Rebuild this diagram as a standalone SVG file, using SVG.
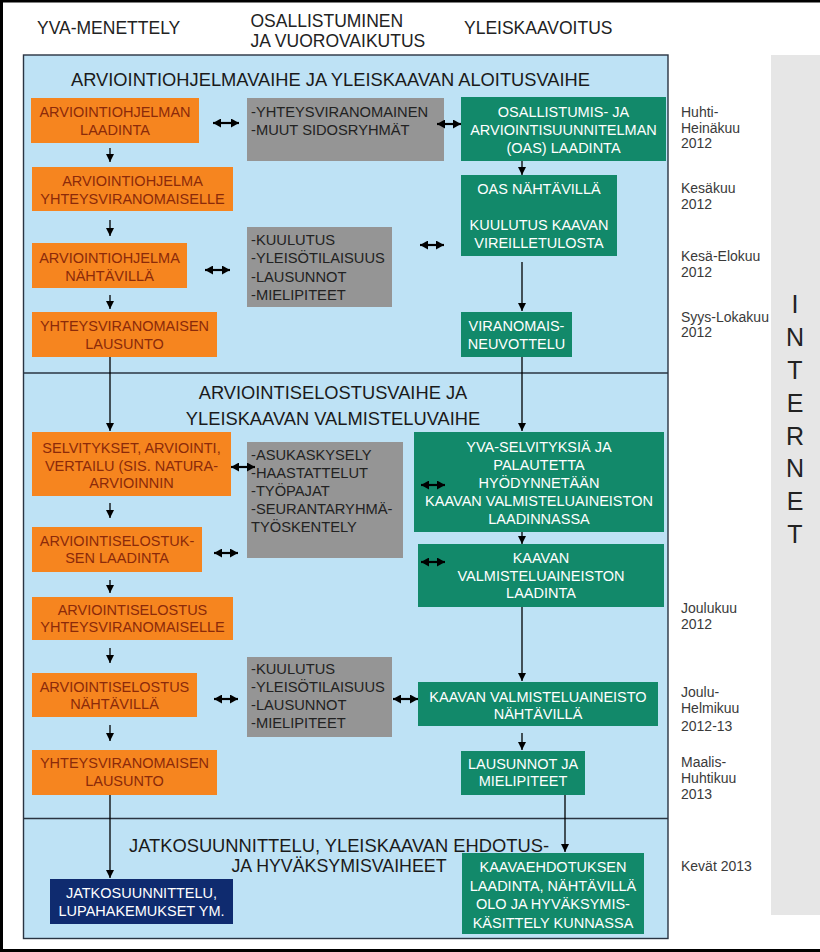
<svg xmlns="http://www.w3.org/2000/svg" width="820" height="952" viewBox="0 0 820 952">
<defs>
<marker id="ah" markerUnits="userSpaceOnUse" markerWidth="8" markerHeight="8" viewBox="0 0 8 8" refX="8" refY="4" orient="auto"><path d="M0,0 L8,4 L0,8 z" fill="#000"/></marker>
<marker id="dh" markerUnits="userSpaceOnUse" markerWidth="8" markerHeight="9" viewBox="0 0 8 9" refX="8" refY="4.5" orient="auto-start-reverse"><path d="M0,0 L8,4.5 L0,9 z" fill="#000"/></marker>
</defs>
<style>
text{font-family:"Liberation Sans",Arial,sans-serif}
.o{fill:#F6851F}
.g{fill:#959595}
.e{fill:#12896A}
.n{fill:#0F2B6F}
.to{font-size:14.5px;fill:#8B2A0A;text-anchor:middle}
.tg{font-size:14.7px;fill:#222}
.te{font-size:14.5px;fill:#fff;text-anchor:middle}
.hd{font-size:17.5px;fill:#222}
.ph{font-size:18.3px;fill:#1a1a1a}
.ph3{font-size:17.8px;fill:#1a1a1a;text-anchor:middle}
.dt{font-size:14px;fill:#3a3a3a}
.inet{font-size:25px;fill:#222;text-anchor:middle}
.s{stroke:#000;stroke-width:1.3;fill:none;marker-end:url(#ah)}
.d{stroke:#000;stroke-width:2.2;fill:none;marker-end:url(#dh);marker-start:url(#dh)}
</style>
<rect x="0" y="0" width="820" height="952" fill="#fff"/>
<path d="M1.5,952 V1 H820 M0,950.5 H820" stroke="#000" stroke-width="3" fill="none"/>

<g id="internet">
<rect x="771" y="55" width="49" height="860" fill="#E6E6E6"/>
<text class="inet" x="795" y="313">I</text>
<text class="inet" x="795" y="346">N</text>
<text class="inet" x="795" y="379">T</text>
<text class="inet" x="795" y="412">E</text>
<text class="inet" x="795" y="445">R</text>
<text class="inet" x="795" y="477">N</text>
<text class="inet" x="795" y="510">E</text>
<text class="inet" x="795" y="543">T</text>
</g>

<g id="panel">
<rect x="23.5" y="55" width="644.5" height="883.5" fill="#BEE2F5" stroke="#2a3442" stroke-width="1.4"/>
<line x1="23.5" y1="373" x2="668" y2="373" stroke="#2a3442" stroke-width="1.4"/>
<line x1="23.5" y1="818.5" x2="668" y2="818.5" stroke="#2a3442" stroke-width="1.4"/>
</g>

<g id="headers">
<text class="hd" x="37" y="34">YVA-MENETTELY</text>
<text class="hd" x="250.5" y="27">OSALLISTUMINEN</text>
<text class="hd" x="250.5" y="47">JA VUOROVAIKUTUS</text>
<text class="hd" x="464" y="34">YLEISKAAVOITUS</text>
</g>

<g id="phases">
<text class="ph" x="71" y="86" textLength="519" lengthAdjust="spacingAndGlyphs">ARVIOINTIOHJELMAVAIHE JA YLEISKAAVAN ALOITUSVAIHE</text>
<text class="ph" x="333" y="399" text-anchor="middle">ARVIOINTISELOSTUSVAIHE JA</text>
<text class="ph" x="333" y="425" text-anchor="middle">YLEISKAAVAN VALMISTELUVAIHE</text>
<text class="ph3" x="339" y="852" textLength="420" lengthAdjust="spacingAndGlyphs">JATKOSUUNNITTELU, YLEISKAAVAN EHDOTUS-</text>
<text class="ph3" x="339" y="872">JA HYVÄKSYMISVAIHEET</text>
</g>

<g id="dates">
<text class="dt" x="681" y="117">Huhti-</text>
<text class="dt" x="681" y="132.5">Heinäkuu</text>
<text class="dt" x="681" y="148">2012</text>
<text class="dt" x="681" y="193">Kesäkuu</text>
<text class="dt" x="681" y="209">2012</text>
<text class="dt" x="681" y="261">Kesä-Elokuu</text>
<text class="dt" x="681" y="277">2012</text>
<text class="dt" x="681" y="321.5">Syys-Lokakuu</text>
<text class="dt" x="681" y="337">2012</text>
<text class="dt" x="681" y="613">Joulukuu</text>
<text class="dt" x="681" y="629">2012</text>
<text class="dt" x="681" y="697">Joulu-</text>
<text class="dt" x="681" y="713">Helmikuu</text>
<text class="dt" x="681" y="730.5">2012-13</text>
<text class="dt" x="681" y="767">Maalis-</text>
<text class="dt" x="681" y="783">Huhtikuu</text>
<text class="dt" x="681" y="798.5">2013</text>
<text class="dt" x="681" y="871">Kevät 2013</text>
</g>

<g id="o1"><rect class="o" x="31" y="98" width="168" height="45"/><text class="to" x="115" y="117">ARVIOINTIOHJELMAN</text><text class="to" x="115" y="135">LAADINTA</text></g>
<g id="o2"><rect class="o" x="32" y="167" width="201" height="44"/><text class="to" x="132.5" y="186">ARVIOINTIOHJELMA</text><text class="to" x="132.5" y="203.5">YHTEYSVIRANOMAISELLE</text></g>
<g id="o3"><rect class="o" x="32" y="243" width="155" height="45"/><text class="to" x="109.5" y="263">ARVIOINTIOHJELMA</text><text class="to" x="109.5" y="280.5">NÄHTÄVILLÄ</text></g>
<g id="o4"><rect class="o" x="32" y="312" width="185" height="45"/><text class="to" x="124.5" y="331">YHTEYSVIRANOMAISEN</text><text class="to" x="124.5" y="348.5">LAUSUNTO</text></g>
<g id="o5"><rect class="o" x="32" y="432" width="199" height="64"/><text class="to" x="131.5" y="453">SELVITYKSET, ARVIOINTI,</text><text class="to" x="131.5" y="470.5">VERTAILU (SIS. NATURA-</text><text class="to" x="131.5" y="488">ARVIOINNIN</text></g>
<g id="o6"><rect class="o" x="32" y="527" width="170" height="45"/><text class="to" x="117" y="545.5">ARVIOINTISELOSTUK-</text><text class="to" x="117" y="563">SEN LAADINTA</text></g>
<g id="o7"><rect class="o" x="32" y="597" width="201" height="43"/><text class="to" x="132.5" y="614.5">ARVIOINTISELOSTUS</text><text class="to" x="132.5" y="632">YHTEYSVIRANOMAISELLE</text></g>
<g id="o8"><rect class="o" x="32" y="673" width="165" height="44"/><text class="to" x="114.5" y="691.5">ARVIOINTISELOSTUS</text><text class="to" x="114.5" y="709">NÄHTÄVILLÄ</text></g>
<g id="o9"><rect class="o" x="32" y="750" width="185" height="45"/><text class="to" x="124.5" y="767.5">YHTEYSVIRANOMAISEN</text><text class="to" x="124.5" y="785.5">LAUSUNTO</text></g>
<g id="n1"><rect class="n" x="50" y="879" width="183" height="45"/><text class="te" x="141.5" y="898">JATKOSUUNNITTELU,</text><text class="te" x="141.5" y="916">LUPAHAKEMUKSET YM.</text></g>

<g id="g1"><rect class="g" x="247" y="98" width="197" height="63"/><text class="tg" x="251" y="116.5">-YHTEYSVIRANOMAINEN</text><text class="tg" x="251" y="134.5">-MUUT SIDOSRYHMÄT</text></g>
<g id="g2"><rect class="g" x="247" y="227" width="145" height="80"/><text class="tg" x="251" y="245">-KUULUTUS</text><text class="tg" x="251" y="263">-YLEISÖTILAISUUS</text><text class="tg" x="251" y="281.5">-LAUSUNNOT</text><text class="tg" x="251" y="299.5">-MIELIPITEET</text></g>
<g id="g3"><rect class="g" x="247" y="442" width="156" height="116"/><text class="tg" x="251" y="459.5">-ASUKASKYSELY</text><text class="tg" x="251" y="477.5">-HAASTATTELUT</text><text class="tg" x="251" y="496">-TYÖPAJAT</text><text class="tg" x="251" y="514">-SEURANTARYHMÄ-</text><text class="tg" x="251" y="532">TYÖSKENTELY</text></g>
<g id="g4"><rect class="g" x="247" y="657" width="145" height="80"/><text class="tg" x="251" y="674">-KUULUTUS</text><text class="tg" x="251" y="692">-YLEISÖTILAISUUS</text><text class="tg" x="251" y="710">-LAUSUNNOT</text><text class="tg" x="251" y="728">-MIELIPITEET</text></g>

<g id="e1"><rect class="e" x="461" y="97" width="205" height="64"/><text class="te" x="563.5" y="116.5">OSALLISTUMIS- JA</text><text class="te" x="563.5" y="134.5">ARVIOINTISUUNNITELMAN</text><text class="te" x="563.5" y="152.5">(OAS) LAADINTA</text></g>
<g id="e2"><rect class="e" x="461" y="175" width="156" height="81"/><text class="te" x="539" y="193.5">OAS NÄHTÄVILLÄ</text><text class="te" x="539" y="229.5">KUULUTUS KAAVAN</text><text class="te" x="539" y="247.5">VIREILLETULOSTA</text></g>
<g id="e3"><rect class="e" x="461" y="312" width="111" height="45"/><text class="te" x="516.5" y="331">VIRANOMAIS-</text><text class="te" x="516.5" y="349">NEUVOTTELU</text></g>
<g id="e4"><rect class="e" x="414" y="432" width="250" height="100"/><text class="te" x="539" y="451.5">YVA-SELVITYKSIÄ JA</text><text class="te" x="539" y="469.5">PALAUTETTA</text><text class="te" x="539" y="487.5">HYÖDYNNETÄÄN</text><text class="te" x="539" y="505.5">KAAVAN VALMISTELUAINEISTON</text><text class="te" x="539" y="523.5">LAADINNASSA</text></g>
<g id="e5"><rect class="e" x="418" y="544" width="246" height="63"/><text class="te" x="541" y="563">KAAVAN</text><text class="te" x="541" y="580.5">VALMISTELUAINEISTON</text><text class="te" x="541" y="598">LAADINTA</text></g>
<g id="e6"><rect class="e" x="418" y="682" width="240" height="44"/><text class="te" x="538" y="701.5">KAAVAN VALMISTELUAINEISTO</text><text class="te" x="538" y="719">NÄHTÄVILLÄ</text></g>
<g id="e7"><rect class="e" x="461" y="751" width="124" height="44"/><text class="te" x="523" y="768.5">LAUSUNNOT JA</text><text class="te" x="523" y="786">MIELIPITEET</text></g>
<g id="e8"><rect class="e" x="462" y="853" width="182" height="81"/><text class="te" x="553" y="872">KAAVAEHDOTUKSEN</text><text class="te" x="553" y="890.5">LAADINTA, NÄHTÄVILLÄ</text><text class="te" x="553" y="909">OLO JA HYVÄKSYMIS-</text><text class="te" x="553" y="927.5">KÄSITTELY KUNNASSA</text></g>

<g id="connectors">
<line class="s" x1="110" y1="148" x2="110" y2="162"/>
<line class="s" x1="110" y1="220" x2="110" y2="236"/>
<line class="s" x1="110" y1="295" x2="110" y2="309"/>
<line class="s" x1="110" y1="357" x2="110" y2="431"/>
<line class="s" x1="110" y1="503" x2="110" y2="518"/>
<line class="s" x1="110" y1="580" x2="110" y2="593"/>
<line class="s" x1="110" y1="648" x2="110" y2="663"/>
<line class="s" x1="110" y1="725" x2="110" y2="741"/>
<line class="s" x1="110" y1="795" x2="110" y2="878"/>
<line class="s" x1="522" y1="161" x2="522" y2="175"/>
<line class="s" x1="522" y1="262" x2="522" y2="311"/>
<line class="s" x1="522" y1="357" x2="522" y2="431"/>
<line class="s" x1="522" y1="532" x2="522" y2="544"/>
<line class="s" x1="522" y1="607" x2="522" y2="681"/>
<line class="s" x1="522" y1="733" x2="522" y2="750"/>
<line class="s" x1="565" y1="795" x2="565" y2="852"/>
<line class="d" x1="213" y1="123" x2="239" y2="123"/>
<line class="d" x1="437" y1="124" x2="461" y2="124"/>
<line class="d" x1="420" y1="245" x2="444" y2="245"/>
<line class="d" x1="205" y1="270" x2="230" y2="270"/>
<line class="d" x1="231" y1="467" x2="255" y2="467"/>
<line class="d" x1="214" y1="553" x2="238" y2="553"/>
<line class="d" x1="421" y1="485" x2="445" y2="485"/>
<line class="d" x1="421" y1="562" x2="445" y2="562"/>
<line class="d" x1="214" y1="699" x2="238" y2="699"/>
<line class="d" x1="393" y1="699" x2="418" y2="699"/>
</g>
</svg>
